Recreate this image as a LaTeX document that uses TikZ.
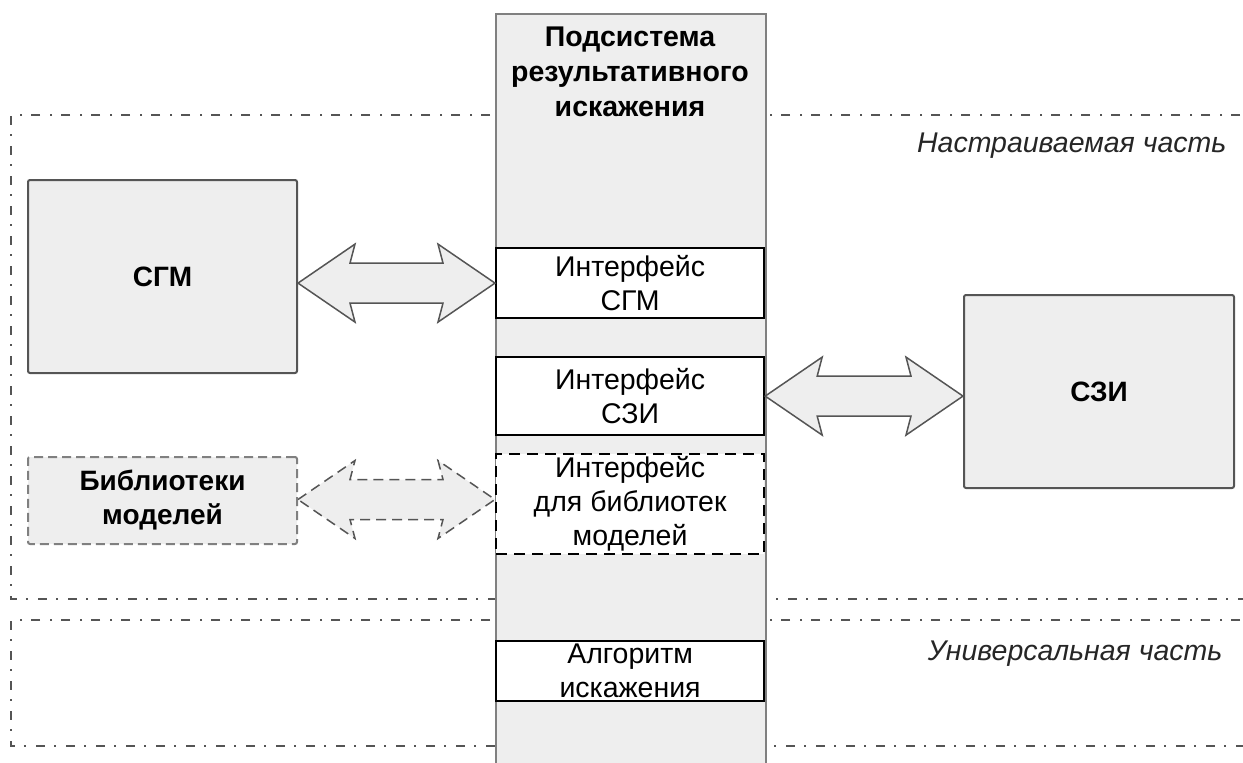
\documentclass[tikz,border=0pt]{standalone}
\usepackage{fontspec}
\setmainfont{Liberation Sans}
\usetikzlibrary{calc}
\definecolor{boxfill}{HTML}{EEEEEE}
\definecolor{edgegray}{HTML}{555555}
\definecolor{colgray}{HTML}{808080}
\tikzset{
  zone/.style={draw=edgegray, line width=1.8pt, dash pattern=on 9pt off 9pt on 2pt off 10pt},
  column/.style={draw=colgray, line width=2pt, fill=boxfill, inner sep=0pt},
  sbox/.style={draw=edgegray, line width=2pt, fill=boxfill, rounded corners=2pt, anchor=north west,
     font=\bfseries\fontsize{28}{34}\selectfont, align=center, inner sep=0pt},
  dbox/.style={sbox, dash pattern=on 9pt off 5pt, draw=colgray},
  ibox/.style={draw=black, line width=2.2pt, fill=white, anchor=north west, inner sep=0pt,
     font=\fontsize{28.5}{34}\selectfont, align=center, minimum width=268pt},
  dibox/.style={ibox, dash pattern=on 11pt off 7pt},
  arrowsh/.style={draw=edgegray, line width=1.5pt, fill=boxfill, line join=miter},
  darrowsh/.style={arrowsh, dash pattern=on 10pt off 6pt},
  zonelabel/.style={font=\itshape\fontsize{28.5}{32}\selectfont, anchor=base east, text=black!85},
}
\newcommand\dblarr[3][]{%
  \draw[#1] (#2) -- ($(#2)+(57,-39)$) -- ($(#2)+(52,-20)$) -- ($(#3)+(-52,-20)$) --
    ($(#3)+(-57,-39)$) -- (#3) -- ($(#3)+(-57,39)$) -- ($(#3)+(-52,20)$) --
    ($(#2)+(52,20)$) -- ($(#2)+(57,39)$) -- cycle;}
\begin{document}
\begin{tikzpicture}[x=1pt,y=-1pt]
\useasboundingbox (0,0) rectangle (1243,763);
\clip (0,0) rectangle (1243,763);
% zones
\draw[zone] (1270,115) -- (11,115) -- (11,599) -- (1270,599);
\draw[zone] (1270,620) -- (11,620) -- (11,746) -- (1270,746);
\node[zonelabel] (lblA) at (1230,152) {Настраиваемая часть};
\node[zonelabel] (lblB) at (1226,660) {Универсальная часть};
% column
\node[column, anchor=north west, minimum width=270pt, minimum height=800pt] (col) at (495,13) {};
\node[font=\bfseries\fontsize{28.5}{35}\selectfont, align=center] (title) at (630,72)
  {Подсистема\\результативного\\искажения};
% interfaces
\node[ibox, minimum height=70pt] (ifsgm) at (495,247) {Интерфейс\\СГМ};
\node[ibox, minimum height=78pt] (ifszi) at (495,356) {Интерфейс\\СЗИ};
\node[dibox, minimum height=100pt] (iflib) at (495,453) {Интерфейс\\для библиотек\\моделей};
\node[ibox, minimum height=60pt] (ifalg) at (495,640) {Алгоритм\\искажения};
% outer boxes
\node[sbox, minimum width=269pt, minimum height=193pt] (sgm) at (27,179) {СГМ};
\node[sbox, minimum width=270pt, minimum height=193pt] (szi) at (963,294) {СЗИ};
\node[dbox, minimum width=269pt, minimum height=87pt] (lib) at (27,456) {Библиотеки\\моделей};
% arrows
\coordinate (a1) at (sgm.east |- ifsgm.west);
\coordinate (a2) at (ifsgm.west);
\dblarr[arrowsh]{a1}{a2}
\coordinate (b1) at (ifszi.east);
\coordinate (b2) at (szi.west |- ifszi.east);
\dblarr[arrowsh]{b1}{b2}
\coordinate (c1) at ($(lib.east)+(0,-1)$);
\coordinate (c2) at (iflib.west |- c1);
\dblarr[darrowsh]{c1}{c2}
\end{tikzpicture}
\end{document}
